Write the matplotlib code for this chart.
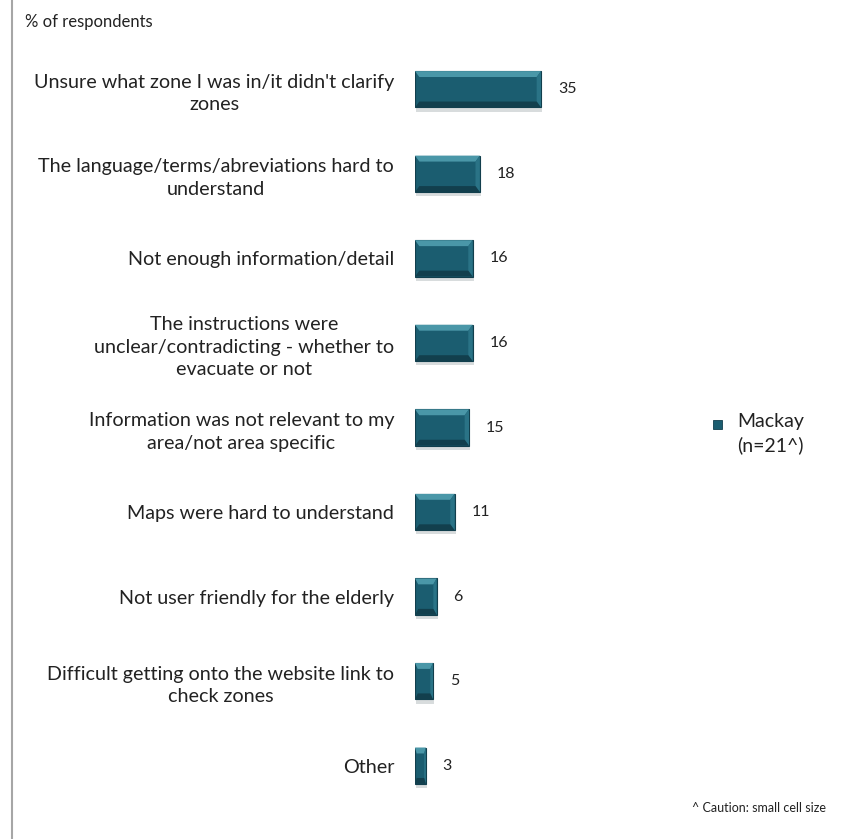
import matplotlib.pyplot as plt
from matplotlib.patches import Rectangle, Polygon
from matplotlib.lines import Line2D

# Reasons the website information was unhelpful
categories = [
    "Unsure what zone I was in/it didn't clarify\nzones",
    "The language/terms/abreviations hard to\nunderstand",
    "Not enough information/detail",
    "The instructions were\nunclear/contradicting - whether to\nevacuate or not",
    "Information was not relevant to my\narea/not area specific",
    "Maps were hard to understand",
    "Not user friendly for the elderly",
    "Difficult getting onto the website link to\ncheck zones",
    "Other",
]
values = [35, 18, 16, 16, 15, 11, 6, 5, 3]
series_name = "Mackay\n(n=21^)"

plt.rcParams['font.family'] = ['Lato', 'DejaVu Sans']

W, H = 841, 839
fig = plt.figure(figsize=(W / 100, H / 100), dpi=100)
fig.patch.set_facecolor('white')

# plot area: x=0 at 415px, 100 units over 360px; rows 84.6px apart
ax = fig.add_axes([415 / W, 1 - 808 / H, 360 / W, 761 / H])
ax.set_xlim(0, 100)
ax.set_ylim(len(values) - 0.5, -0.5)

bar_h = 0.43
base = '#1b5d70'
pos = list(range(len(values)))
ax.barh(pos, values, height=bar_h, color=base, edgecolor='#123f4d', linewidth=0.8, zorder=3)

# bevel: light top edge, darker bottom edge, soft shadow
for y, v in zip(pos, values):
    t = bar_h / 2
    bx = min(1.2, v * 0.15)
    by = 0.07
    ax.add_patch(Polygon([(0, y - t), (v, y - t), (v - bx, y - t + by), (bx, y - t + by)],
                         closed=True, color='#4a97a8', zorder=4, lw=0))
    ax.add_patch(Polygon([(v, y - t), (v, y + t), (v - bx, y + t - by), (v - bx, y - t + by)],
                         closed=True, color='#2a7386', zorder=4, lw=0))
    ax.add_patch(Polygon([(0, y + t), (v, y + t), (v - bx, y + t - by), (bx, y + t - by)],
                         closed=True, color='#123f4d', zorder=4, lw=0))
    ax.add_patch(Rectangle((0.3, y + t), v, 0.05, color='#d8dcdd', zorder=2, lw=0))
    ax.text(v + 4.7, y, str(v), va='center', ha='left', fontsize=11.5, color='#222222')

ax.set_yticks(pos)
ax.set_yticklabels(categories, fontsize=14.2, multialignment='center', color='#222222',
                   linespacing=1.4)
ax.tick_params(axis='y', length=0, pad=15)
ax.set_xticks([])
for s in ax.spines.values():
    s.set_visible(False)

fig.text(25 / W, 1 - 22 / H, "% of respondents", fontsize=12, va='center', ha='left', color='#222222')
fig.text(826 / W, 1 - 808 / H, "^ Caution: small cell size", fontsize=9, va='center', ha='right',
         color='#222222')

# legend
fig.patches.append(Rectangle((713 / W, 1 - 429 / H), 9 / W, 9 / H, transform=fig.transFigure,
                             facecolor=base, edgecolor='#123f4d', lw=0.6))
fig.text(737 / W, 1 - 413 / H, series_name, fontsize=14, va='top', ha='left', color='#222222',
         linespacing=1.4)

# left frame line
fig.add_artist(Line2D([12 / W, 12 / W], [0, 1], color='#a6a6a6', lw=1.5, transform=fig.transFigure))

fig.savefig('out.png', dpi=100, facecolor='white')
